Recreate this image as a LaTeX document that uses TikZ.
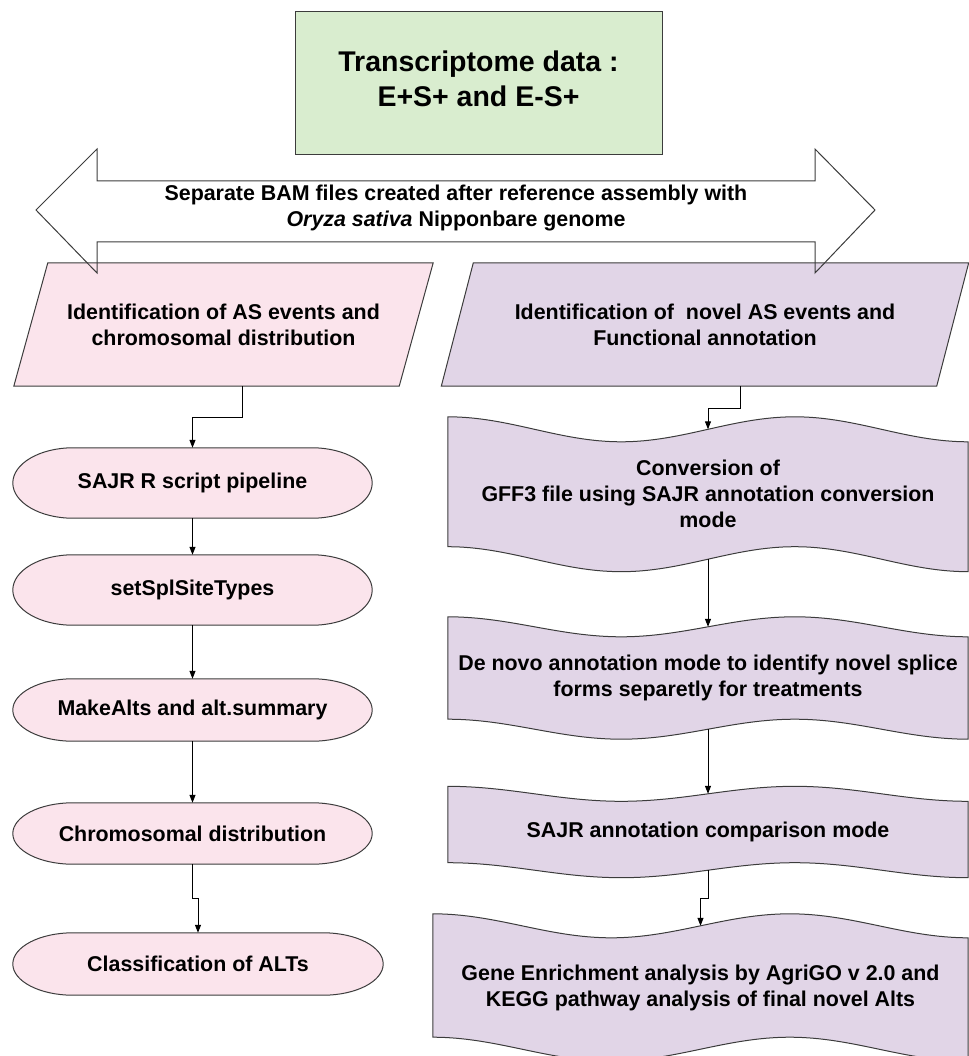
\documentclass[tikz,border=0pt]{standalone}
\usepackage{fontspec}
\setmainfont{Liberation Sans}
\usetikzlibrary{calc,arrows.meta,backgrounds}

\definecolor{titlegreen}{HTML}{D9EDCF}
\definecolor{leftpink}{HTML}{FBE4EC}
\definecolor{rightlilac}{HTML}{E1D5E7}
\definecolor{edgegray}{HTML}{3C3C3C}

\tikzset{
  lbl/.style={align=center, inner sep=0pt, font=\bfseries\fontsize{21.4}{26}\selectfont},
  pill/.style={lbl, minimum width=359pt, minimum height=#1},
  para/.style={lbl, minimum height=123pt},
  tapebox/.style={lbl, minimum width=520pt, minimum height=#1},
  outline/.style={draw=edgegray, line width=1pt},
  flow/.style={draw=black, line width=1pt, -{Triangle[length=8pt,width=6pt]}},
}

\begin{document}
\begin{tikzpicture}[x=1pt, y=-1pt]
  \useasboundingbox (0,0) rectangle (968,1056);

  % top box and the wide double arrow
  \node[lbl, font=\bfseries\fontsize{28.5}{35}\selectfont, outline, fill=titlegreen, text depth=9pt,
        minimum width=367pt, minimum height=143pt] (data) at (478.5,83.5) {Transcriptome data :\\E+S+ and E-S+};
  \node[lbl] (bam) at (456,208.5) {Separate BAM files created after reference assembly with\\\textit{Oryza sativa} Nipponbare genome};

  % the two branches
  \node[para, minimum width=419pt] (ident) at (223.5,324.5) {Identification of AS events and\\chromosomal distribution};
  \node[para, minimum width=527pt] (novel) at (705,324.5) {Identification of~ novel AS events and\\Functional annotation};

  % left column
  \node[pill=70pt] (sajr) at (192.5,483) {SAJR R script pipeline};
  \node[pill=70pt] (splsite) at (192.5,590) {setSplSiteTypes};
  \node[pill=62pt] (makealts) at (192.5,710) {MakeAlts and alt.summary};
  \node[pill=61pt] (chromdist) at (192.5,833.5) {Chromosomal distribution};
  \node[pill=62pt, minimum width=370pt] (classify) at (198,964) {Classification of ALTs};

  % right column
  \node[tapebox=129.5pt] (conv) at (708,494.25) {Conversion of\\GFF3 file using SAJR annotation conversion\\mode};
  \node[tapebox=102pt] (denovo) at (708,678) {De novo annotation mode to identify novel splice\\forms separetly for treatments};
  \node[tapebox=76pt] (compare) at (708,832) {SAJR annotation comparison mode};
  \node[tapebox=123pt, minimum width=535pt] (enrich) at (700.5,987.5) {Gene Enrichment analysis by AgriGO v 2.0 and\\KEGG pathway analysis of final novel Alts};

  \begin{scope}[on background layer]
    \foreach \n/\s/\c in {ident/34/leftpink, novel/32/rightlilac}
      \filldraw[outline, fill=\c] ([xshift=\s pt]\n.north west) -- (\n.north east)
        -- ([xshift=-\s pt]\n.south east) -- (\n.south west) -- cycle;

    \foreach \n in {sajr,splsite,makealts,chromdist,classify}
      \filldraw[outline, fill=leftpink] ([xshift=60pt]\n.north west) -- ([xshift=-60pt]\n.north east)
        .. controls ([xshift=-27pt]\n.north east) and ($(\n.east)!0.552!(\n.north east)$) .. (\n.east)
        .. controls ($(\n.east)!0.552!(\n.south east)$) and ([xshift=-27pt]\n.south east) .. ([xshift=-60pt]\n.south east)
        -- ([xshift=60pt]\n.south west)
        .. controls ([xshift=27pt]\n.south west) and ($(\n.west)!0.552!(\n.south west)$) .. (\n.west)
        .. controls ($(\n.west)!0.552!(\n.north west)$) and ([xshift=27pt]\n.north west) .. cycle;

    \foreach \n/\a in {conv/12.5, denovo/10, compare/7.5, enrich/12}
      \filldraw[outline, fill=rightlilac]
        ($(\n.north west)+(0,-\a)$)
        .. controls ($(\n.north west)!0.12!(\n.north east)+(0,-\a)$) and ($(\n.north west)!0.2133!(\n.north east)+(0,\a)$) .. ($(\n.north west)!0.3333!(\n.north east)+(0,\a)$)
        .. controls ($(\n.north west)!0.4533!(\n.north east)+(0,\a)$) and ($(\n.north west)!0.5467!(\n.north east)+(0,-\a)$) .. ($(\n.north west)!0.6667!(\n.north east)+(0,-\a)$)
        .. controls ($(\n.north west)!0.7867!(\n.north east)+(0,-\a)$) and ($(\n.north west)!0.88!(\n.north east)+(0,\a)$) .. ($(\n.north east)+(0,\a)$)
        -- ($(\n.south east)+(0,\a)$)
        .. controls ($(\n.south west)!0.88!(\n.south east)+(0,\a)$) and ($(\n.south west)!0.7867!(\n.south east)+(0,-\a)$) .. ($(\n.south west)!0.6667!(\n.south east)+(0,-\a)$)
        .. controls ($(\n.south west)!0.5467!(\n.south east)+(0,-\a)$) and ($(\n.south west)!0.4533!(\n.south east)+(0,\a)$) .. ($(\n.south west)!0.3333!(\n.south east)+(0,\a)$)
        .. controls ($(\n.south west)!0.2133!(\n.south east)+(0,\a)$) and ($(\n.south west)!0.12!(\n.south east)+(0,-\a)$) .. ($(\n.south west)+(0,-\a)$)
        -- cycle;
  \end{scope}

  \draw[outline] (36,210) -- (97,149) -- (97,181) -- (815,181) -- (815,149) -- (875,210)
    -- (815,273) -- (815,242) -- (97,242) -- (97,273) -- cycle;

  % connectors
  \draw[flow] ([xshift=18.5pt]ident.south) -- ++(0,31) -| (sajr.north);
  \draw[flow] (sajr.south) -- (splsite.north);
  \draw[flow] (splsite.south) -- (makealts.north);
  \draw[flow] (makealts.south) -- (chromdist.north);
  \draw[flow] (chromdist.south) -- ++(0,34.5) -| (classify.north);

  \draw[flow] ([xshift=35pt]novel.south) -- ++(0,22) -| (conv.north);
  \draw[flow] (conv.south) -- (denovo.north);
  \draw[flow] (denovo.south) -- (compare.north);
  \draw[flow] (compare.south) -- ++(0,28) -| (enrich.north);
\end{tikzpicture}
\end{document}
